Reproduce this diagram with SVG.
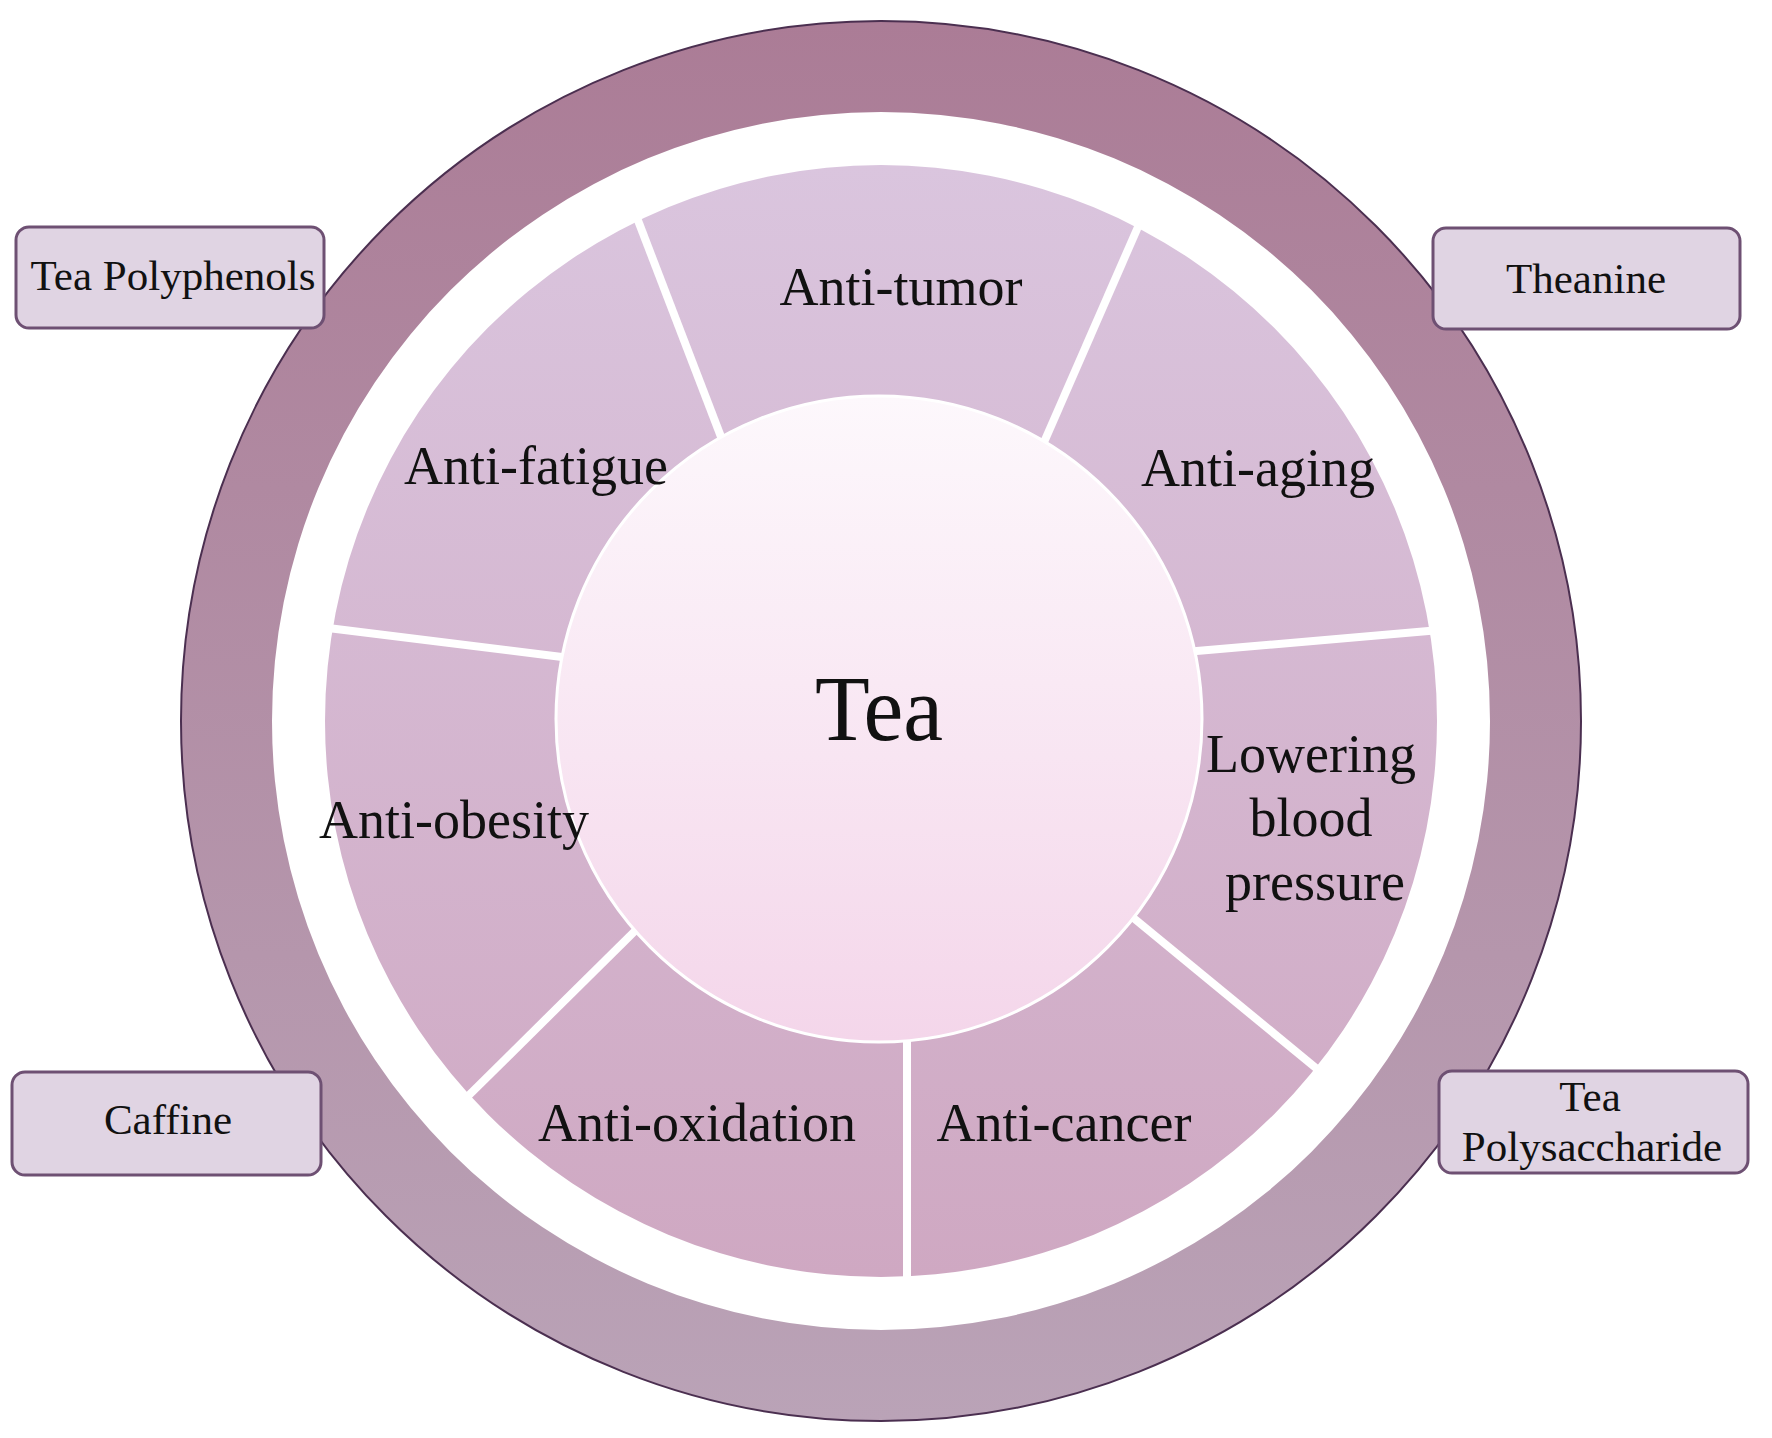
<svg xmlns="http://www.w3.org/2000/svg" width="1772" height="1438" viewBox="0 0 1772 1438">
<defs>
<linearGradient id="ringG" x1="0" y1="0" x2="0" y2="1">
<stop offset="0" stop-color="#ab7c96"/>
<stop offset="1" stop-color="#baa3b7"/>
</linearGradient>
<linearGradient id="segG" x1="0" y1="0" x2="0" y2="1">
<stop offset="0" stop-color="#dac5de"/>
<stop offset="1" stop-color="#cfa8c2"/>
</linearGradient>
<linearGradient id="coreG" x1="0" y1="0" x2="0" y2="1">
<stop offset="0" stop-color="#fdf8fc"/>
<stop offset="1" stop-color="#f4d6ea"/>
</linearGradient>
</defs>
<style>
.lbl{font-family:"Liberation Serif","Times New Roman",serif;font-size:54px;fill:#111;text-anchor:middle}
.box rect{fill:#e0d4e3;stroke:#6e5073;stroke-width:3}
.box text{font-family:"Liberation Serif","Times New Roman",serif;font-size:43px;fill:#111;text-anchor:middle}
.div{stroke:#ffffff;stroke-width:8;stroke-linecap:butt}
</style>
<rect width="1772" height="1438" fill="#ffffff"/>
<g id="outer-ring">
<path d="M881,21 A700,700 0 1,1 881,1421 A700,700 0 1,1 881,21 Z M881,112 A609,609 0 1,0 881,1330 A609,609 0 1,0 881,112 Z" fill="url(#ringG)" fill-rule="evenodd"/>
<circle cx="881" cy="721" r="700" fill="none" stroke="#4b2f50" stroke-width="2"/>
</g>
<g id="segments">
<path d="M881,165 A556,556 0 1,1 881,1277 A556,556 0 1,1 881,165 Z M881,403 A318,318 0 1,0 881,1039 A318,318 0 1,0 881,403 Z" fill="url(#segG)" fill-rule="evenodd"/>
</g>
<g id="connectors">
<line class="div" x1="634" y1="210" x2="728" y2="455"/>
<line class="div" x1="1141" y1="220" x2="1038" y2="456"/>
<line class="div" x1="1440" y1="630" x2="1185" y2="652"/>
<line class="div" x1="1322" y1="1073" x2="1125" y2="911"/>
<line class="div" x1="907" y1="1282" x2="907" y2="1030"/>
<line class="div" x1="462" y1="1102" x2="642" y2="924"/>
<line class="div" x1="320" y1="627" x2="570" y2="658"/>
</g>
<g id="tea">
<circle cx="879" cy="719" r="323" fill="url(#coreG)" stroke="#ffffff" stroke-width="3"/>
<text x="879" y="740" font-family="Liberation Serif, Times New Roman, serif" font-size="94" fill="#111" text-anchor="middle" textLength="128" lengthAdjust="spacingAndGlyphs">Tea</text>
</g>
<g id="anti-tumor"><text class="lbl" x="901" y="305">Anti-tumor</text></g>
<g id="anti-aging"><text class="lbl" x="1258" y="486">Anti-aging</text></g>
<g id="lowering-blood-pressure">
<text class="lbl" x="1311" y="772">Lowering</text>
<text class="lbl" x="1311" y="836">blood</text>
<text class="lbl" x="1315" y="900">pressure</text>
</g>
<g id="anti-cancer"><text class="lbl" x="1064" y="1141">Anti-cancer</text></g>
<g id="anti-oxidation"><text class="lbl" x="697" y="1141">Anti-oxidation</text></g>
<g id="anti-obesity"><text class="lbl" x="454" y="838">Anti-obesity</text></g>
<g id="anti-fatigue"><text class="lbl" x="536" y="484">Anti-fatigue</text></g>
<g id="tea-polyphenols" class="box">
<rect x="16" y="227" width="308" height="101" rx="13"/>
<text x="173" y="290">Tea Polyphenols</text>
</g>
<g id="theanine" class="box">
<rect x="1433" y="228" width="307" height="101" rx="13"/>
<text x="1586" y="293">Theanine</text>
</g>
<g id="caffine" class="box">
<rect x="12" y="1072" width="309" height="103" rx="13"/>
<text x="168" y="1134">Caffine</text>
</g>
<g id="tea-polysaccharide" class="box">
<rect x="1439" y="1071" width="309" height="102" rx="13"/>
<text x="1590" y="1111">Tea</text>
<text x="1592" y="1161">Polysaccharide</text>
</g>
</svg>
